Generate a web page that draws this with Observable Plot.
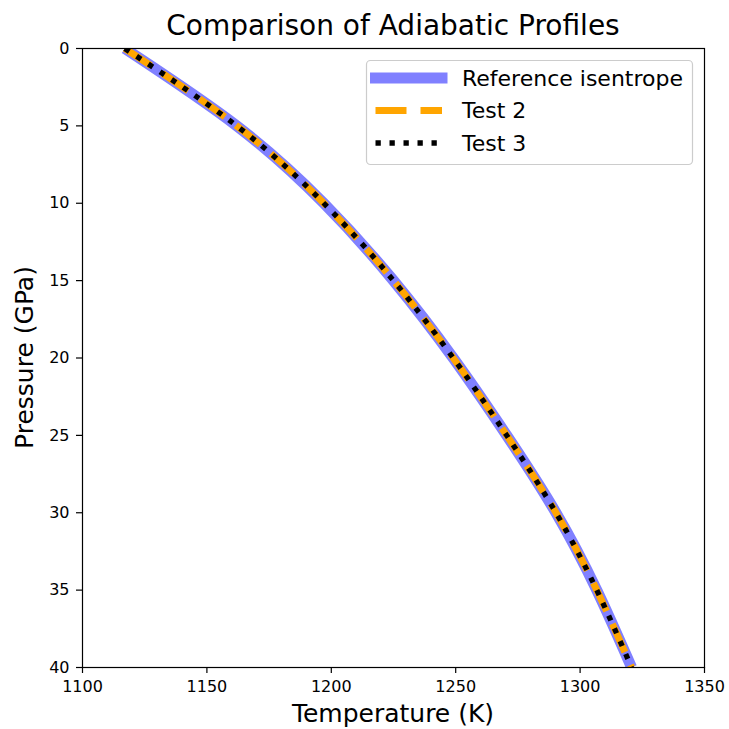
<!DOCTYPE html>
<html>
<head>
<meta charset="utf-8">
<script src="https://cdn.jsdelivr.net/npm/d3@7"></script>
<script src="https://cdn.jsdelivr.net/npm/@observablehq/plot@0.6"></script>
<style>
  body { margin: 0; background: #fff; }
  #wrap { position: relative; width: 729px; height: 729px; }
</style>
</head>
<body>
<div id="wrap"></div>
<script>
// Data
const pressureGPa = [0, 5, 10, 15, 20, 25, 30, 35, 40];
const referenceT = [1117, 1162, 1197, 1225, 1249, 1270.5, 1290.3, 1306.7, 1320.7];
const test2T     = [1117, 1162, 1197, 1225, 1249, 1270.5, 1290.3, 1306.7, 1320.7];
const test3T     = [1117, 1162, 1197, 1225, 1249, 1270.5, 1290.3, 1306.7, 1320.7];
const xTicks = [1100, 1150, 1200, 1250, 1300, 1350];
const yTicks = [0, 5, 10, 15, 20, 25, 30, 35, 40];
const seriesNames = ["Reference isentrope", "Test 2", "Test 3"];
const titleText = "Comparison of Adiabatic Profiles";
const xLabel = "Temperature (K)";
const yLabel = "Pressure (GPa)";

const ref = pressureGPa.map((p, i) => ({P: p, T: referenceT[i]}));
const t2 = pressureGPa.map((p, i) => ({P: p, T: test2T[i]}));
const t3 = pressureGPa.map((p, i) => ({P: p, T: test3T[i]}));

const FONT = "DejaVu Sans, sans-serif";
const W = 729, H = 729, ML = 82, MR = 25, MT = 48, MB = 62;

const chart = Plot.plot({
  width: W,
  height: H,
  marginLeft: ML,
  marginRight: MR,
  marginTop: MT,
  marginBottom: MB,
  style: {fontFamily: FONT, fontSize: "16px", color: "#000", background: "#fff", overflow: "visible"},
  x: {domain: [1100, 1350]},
  y: {domain: [0, 40], reverse: true},
  marks: [
    Plot.line(ref, {x: "T", y: "P", stroke: "#8080ff", strokeWidth: 11, curve: "natural", clip: true, strokeLinecap: "butt"}),
    Plot.line(t2, {x: "T", y: "P", stroke: "orange", strokeWidth: 7, strokeDasharray: "31,14", curve: "natural", clip: true, strokeLinecap: "butt"}),
    Plot.line(t3, {x: "T", y: "P", stroke: "black", strokeWidth: 5.3, strokeDasharray: "5.3,8.7", curve: "natural", clip: true, strokeLinecap: "butt"}),
    Plot.frame({stroke: "black", strokeWidth: 1.2}),
    Plot.axisX({ticks: xTicks, tickSize: 6, tickPadding: 7, label: null, tickFormat: d => String(d), fontSize: 16, strokeWidth: 1.2}),
    Plot.axisY({ticks: yTicks, tickSize: 6, tickPadding: 7, label: null, tickFormat: d => String(d), fontSize: 16, strokeWidth: 1.2})
  ]
});

document.getElementById("wrap").appendChild(chart);
const svg = d3.select(chart);
const cx = ML + (W - ML - MR) / 2;

// Title and axis labels
svg.append("text").text(titleText)
  .attr("x", cx).attr("y", 35).attr("text-anchor", "middle")
  .attr("font-family", FONT).attr("font-size", 28).attr("fill", "#000");
svg.append("text").text(xLabel)
  .attr("x", cx).attr("y", 722).attr("text-anchor", "middle")
  .attr("font-family", FONT).attr("font-size", 25).attr("fill", "#000");
svg.append("text").text(yLabel)
  .attr("transform", `translate(33, ${MT + (H - MT - MB) / 2}) rotate(-90)`)
  .attr("text-anchor", "middle")
  .attr("font-family", FONT).attr("font-size", 25).attr("fill", "#000");

// Legend
const lg = svg.append("g").attr("text-anchor", "start");
lg.append("rect").attr("x", 366.5).attr("y", 60.5).attr("width", 326).attr("height", 104)
  .attr("rx", 4).attr("fill", "#fff").attr("fill-opacity", 0.8)
  .attr("stroke", "#cccccc").attr("stroke-width", 1.2);
const styles = [
  {stroke: "#8080ff", width: 11, dash: null, cap: "square"},
  {stroke: "orange", width: 7, dash: "31,14", cap: "butt"},
  {stroke: "black", width: 5.3, dash: "5.3,8.7", cap: "butt"}
];
const rowY = [78, 110.5, 143];
seriesNames.forEach((name, i) => {
  const s = styles[i];
  const ln = lg.append("line").attr("x1", 375.5).attr("x2", 442).attr("y1", rowY[i]).attr("y2", rowY[i])
    .attr("stroke", s.stroke).attr("stroke-width", s.width).attr("stroke-linecap", s.cap);
  if (s.dash) ln.attr("stroke-dasharray", s.dash);
  lg.append("text").text(name)
    .attr("x", 462).attr("y", rowY[i] + 7.5).attr("text-anchor", "start")
    .attr("font-family", FONT).attr("font-size", 22).attr("fill", "#000");
});
</script>
</body>
</html>
